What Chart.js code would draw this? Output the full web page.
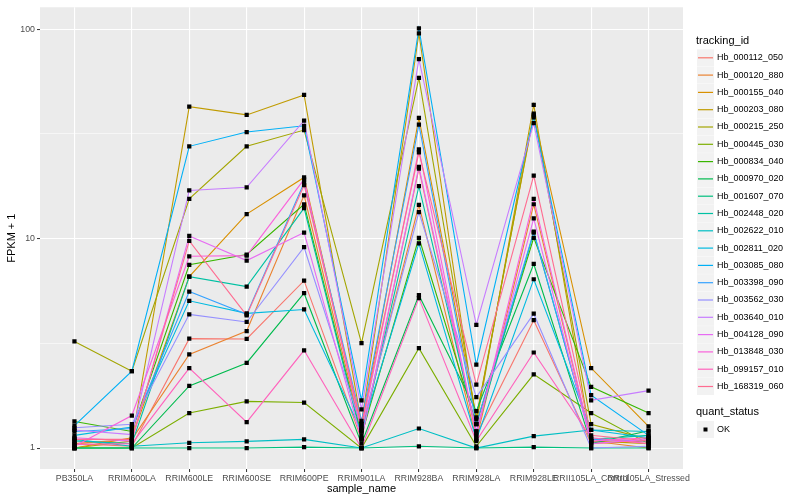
<!DOCTYPE html>
<html>
<head>
<meta charset="utf-8">
<script src="https://cdn.jsdelivr.net/npm/chart.js@4.4.1/dist/chart.umd.min.js"></script>
<style>
  html, body { margin: 0; padding: 0; background: #ffffff; }
  #wrap { width: 800px; height: 500px; }
</style>
</head>
<body>
<div id="wrap"><canvas id="chart" width="800" height="500"></canvas></div>
<script>
// sample names on the x axis
const samples = ['PB350LA', 'RRIM600LA', 'RRIM600LE', 'RRIM600SE', 'RRIM600PE', 'RRIM901LA',
  'RRIM928BA', 'RRIM928LA', 'RRIM928LE', 'RRII105LA_Control', 'RRII105LA_Stressed'];

// tracking ids (legend order)
const trackingIds = ['Hb_000112_050', 'Hb_000120_880', 'Hb_000155_040', 'Hb_000203_080', 'Hb_000215_250',
  'Hb_000445_030', 'Hb_000834_040', 'Hb_000970_020', 'Hb_001607_070', 'Hb_002448_020',
  'Hb_002622_010', 'Hb_002811_020', 'Hb_003085_080', 'Hb_003398_090', 'Hb_003562_030',
  'Hb_003640_010', 'Hb_004128_090', 'Hb_013848_030', 'Hb_099157_010', 'Hb_168319_060'];

// ggplot hue palette for 20 groups
const colors = ['#F8766D', '#EA8331', '#D89000', '#C09B00', '#A3A500', '#7CAE00', '#39B600', '#00BB4E',
  '#00BF7D', '#00C1A3', '#00BFC4', '#00BAE0', '#00B0F6', '#35A2FF', '#9590FF', '#C77CFF',
  '#E76BF3', '#FA62DB', '#FF62BC', '#FF6C91'];

// FPKM + 1, one row per tracking id, one value per sample
const fpkm = [
  [1.05, 1.02, 3.33, 3.32, 6.3, 1.1, 21.6, 1.15, 4.08, 1.05, 1.08],    // Hb_000112_050
  [1.05, 1.1, 2.8, 3.62, 16.1, 1.2, 14.5, 1.1, 14.6, 1.08, 1.0],       // Hb_000120_880
  [1.0, 1.12, 6.59, 13.1, 19.6, 1.25, 37.7, 1.4, 38.8, 2.41, 1.27],    // Hb_000155_040
  [1.0, 1.08, 42.7, 39.0, 48.6, 1.31, 95.5, 1.31, 43.6, 1.08, 1.05],   // Hb_000203_080
  [3.23, 2.33, 15.5, 27.6, 33.0, 3.17, 58.6, 1.38, 39.5, 1.3, 1.1],    // Hb_000215_250
  [1.0, 1.0, 1.47, 1.67, 1.65, 1.0, 3.0, 1.02, 2.25, 1.47, 1.05],      // Hb_000445_030
  [1.34, 1.2, 7.5, 8.4, 14.6, 1.15, 10.1, 1.3, 10.1, 1.96, 1.47],      // Hb_000834_040
  [1.0, 1.0, 1.98, 2.55, 5.49, 1.05, 5.37, 1.5, 7.57, 1.05, 1.21],     // Hb_000970_020
  [1.0, 1.0, 1.0, 1.0, 1.01, 1.0, 1.02, 1.0, 1.01, 1.0, 1.0],          // Hb_001607_070
  [1.08, 1.05, 6.59, 5.9, 14.0, 1.12, 17.8, 1.2, 10.7, 1.1, 1.15],     // Hb_002448_020
  [1.1, 1.02, 1.06, 1.076, 1.1, 1.0, 1.24, 1.0, 1.14, 1.22, 1.2],      // Hb_002622_010
  [1.15, 1.26, 5.05, 4.4, 4.59, 1.2, 9.5, 1.1, 6.4, 1.22, 1.12],       // Hb_002811_020
  [1.28, 2.33, 27.6, 32.3, 34.6, 1.69, 101, 2.5, 38.0, 1.79, 1.15],    // Hb_003085_080
  [1.2, 1.24, 5.59, 4.35, 18.5, 1.35, 35.0, 1.3, 10.8, 1.1, 1.08],     // Hb_003398_090
  [1.25, 1.3, 4.35, 4.0, 9.1, 1.25, 13.4, 1.75, 4.38, 1.0, 1.02],      // Hb_003562_030
  [1.22, 1.16, 17.0, 17.6, 36.6, 1.53, 72, 3.88, 35.6, 1.69, 1.88],    // Hb_003640_010
  [1.12, 1.08, 10.3, 7.86, 10.7, 1.1, 22.0, 1.2, 12.5, 1.05, 1.1],     // Hb_004128_090
  [1.02, 1.43, 8.24, 8.3, 19.2, 1.22, 26.7, 1.15, 15.5, 1.08, 1.12],   // Hb_013848_030
  [1.04, 1.05, 2.41, 1.33, 2.93, 1.0, 5.2, 1.08, 2.86, 1.12, 1.05],    // Hb_099157_010
  [1.1, 1.1, 9.75, 4.3, 18.0, 1.3, 25.8, 2.01, 20.0, 1.15, 1.08]       // Hb_168319_060
];

// y breaks: labelled majors and unlabelled minors
const yMajor = [1, 10, 100];
const yMinor = [Math.sqrt(10), Math.sqrt(1000)];

const FONT = '"Liberation Sans", Arial, Helvetica, sans-serif';

function toPoints(row) {
  return row.map((v, i) => ({ x: i, y: v }));
}

const datasets = [];
fpkm.forEach((row, i) => {
  datasets.push({
    label: trackingIds[i],
    data: toPoints(row),
    borderColor: colors[i],
    borderWidth: 1.1,
    pointRadius: 0,
    showLine: true,
    fill: false,
    tension: 0,
    order: 100 - i
  });
});
// points on top of all lines (quant_status = OK)
fpkm.forEach((row, i) => {
  datasets.push({
    label: trackingIds[i] + ' OK',
    data: toPoints(row),
    showLine: false,
    pointStyle: 'rect',
    pointRadius: 3,
    pointBackgroundColor: '#000000',
    pointBorderWidth: 0,
    order: 0
  });
});

// grey panel background
const panelBg = {
  id: 'panelBg',
  beforeDraw(chart) {
    const a = chart.chartArea;
    const ctx = chart.ctx;
    ctx.save();
    ctx.fillStyle = '#EBEBEB';
    ctx.fillRect(a.left, a.top, a.right - a.left, a.bottom - a.top);
    ctx.restore();
  }
};

// ggplot style legend on the right
const ggLegend = {
  id: 'ggLegend',
  afterDraw(chart) {
    const ctx = chart.ctx;
    ctx.save();
    ctx.textBaseline = 'middle';
    ctx.fillStyle = '#000000';
    ctx.font = '11px ' + FONT;
    ctx.fillText('tracking_id', 696, 41);
    const y0 = 57.3, step = 17.3;
    trackingIds.forEach((id, i) => {
      const y = y0 + i * step;
      ctx.fillStyle = '#F2F2F2';
      ctx.fillRect(697, y - 8, 17, 17);
      ctx.strokeStyle = colors[i];
      ctx.lineWidth = 1.2;
      ctx.beginPath();
      ctx.moveTo(698, y + 0.5);
      ctx.lineTo(713, y + 0.5);
      ctx.stroke();
      ctx.fillStyle = '#000000';
      ctx.font = '9px ' + FONT;
      ctx.fillText(id, 717, y + 0.5);
    });
    ctx.font = '11px ' + FONT;
    ctx.fillText('quant_status', 696, 412);
    ctx.fillStyle = '#F2F2F2';
    ctx.fillRect(697, 421, 17, 17);
    ctx.fillStyle = '#000000';
    ctx.fillRect(703.5, 427.5, 4, 4);
    ctx.font = '9px ' + FONT;
    ctx.fillText('OK', 717, 429.5);
    ctx.restore();
  }
};

const ctx = document.getElementById('chart').getContext('2d');
new Chart(ctx, {
  type: 'line',
  data: { datasets: datasets },
  plugins: [panelBg, ggLegend],
  options: {
    responsive: false,
    animation: false,
    devicePixelRatio: 1,
    layout: { padding: { top: 5, right: 117, left: 0, bottom: 0 } },
    plugins: {
      legend: { display: false },
      tooltip: { enabled: false }
    },
    scales: {
      x: {
        type: 'linear',
        min: -0.6,
        max: 10.6,
        afterBuildTicks(scale) {
          scale.ticks = samples.map((s, i) => ({ value: i }));
        },
        afterFit(scale) { scale.height = 31; },
        border: { display: false },
        grid: {
          color: '#FFFFFF',
          lineWidth: 1.1,
          tickColor: '#333333',
          tickLength: 3,
          tickWidth: 1
        },
        ticks: {
          autoSkip: false,
          maxRotation: 0,
          minRotation: 0,
          padding: 1,
          color: '#4D4D4D',
          font: { family: FONT, size: 8.8 },
          callback: (v) => samples[v]
        },
        title: {
          display: true,
          text: 'sample_name',
          color: '#000000',
          font: { family: FONT, size: 11 },
          padding: { top: 0, bottom: 4 }
        }
      },
      y: {
        type: 'logarithmic',
        min: Math.pow(10, -0.1),
        max: Math.pow(10, 2.105),
        afterBuildTicks(scale) {
          scale.ticks = yMajor.concat(yMinor).sort((a, b) => a - b).map(v => ({ value: v }));
        },
        afterFit(scale) { scale.width = 40; },
        border: { display: false },
        grid: {
          color: '#FFFFFF',
          lineWidth: (c) => (c.tick && yMajor.includes(c.tick.value)) ? 1.1 : 0.55,
          tickColor: (c) => (c.tick && yMajor.includes(c.tick.value)) ? '#333333' : 'rgba(0,0,0,0)',
          tickLength: 3,
          tickWidth: 1
        },
        ticks: {
          padding: 2,
          color: '#4D4D4D',
          font: { family: FONT, size: 8.8 },
          callback: (v) => yMajor.includes(v) ? String(v) : ''
        },
        title: {
          display: true,
          text: 'FPKM + 1',
          color: '#000000',
          font: { family: FONT, size: 11 },
          padding: { top: 5, bottom: 0 }
        }
      }
    }
  }
});
</script>
</body>
</html>
